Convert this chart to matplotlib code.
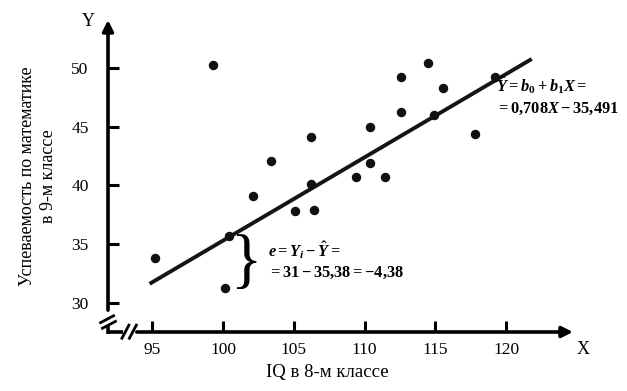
import numpy as np
import matplotlib.pyplot as plt

# IQ in 8th grade vs maths score in 9th grade
iq = [95.2, 99.3, 100.1, 100.4, 102.1, 103.4, 105.1, 106.2, 106.2, 106.4, 109.4,
      110.4, 110.4, 111.4, 112.6, 112.6, 114.5, 114.9, 115.5, 117.8, 119.2]
score = [33.8, 50.2, 31.3, 35.7, 39.1, 42.1, 37.8, 44.1, 40.1, 37.9, 40.7,
         45.0, 41.9, 40.7, 49.2, 46.2, 50.4, 46.0, 48.3, 44.4, 49.2]

b0, b1 = -35.491, 0.708
line_x = [94.8, 121.8]

xticks = [95, 100, 105, 110, 115, 120]
yticks = [30, 35, 40, 45, 50]

plt.rcParams['font.family'] = 'Liberation Serif'
plt.rcParams['mathtext.fontset'] = 'custom'
plt.rcParams['mathtext.rm'] = 'Liberation Serif:bold'
plt.rcParams['mathtext.it'] = 'Liberation Serif:italic:bold'
plt.rcParams['mathtext.bf'] = 'Liberation Serif:bold'

W, H = 627, 391
fig = plt.figure(figsize=(W / 100, H / 100), dpi=100)
ax = fig.add_axes([108 / W, 1 - 332 / H, 465 / W, 312 / H])
ax.set_xlim(91.86, 124.72)
ax.set_ylim(27.53, 54.06)

# === data ===
ax.plot(iq, score, 'o', color='#111111', markersize=5.8, zorder=3)
lx = np.array(line_x)
ax.plot(lx, b0 + b1 * lx, color='#151515', lw=2.8, solid_capstyle='butt', zorder=2)

# === axes drawn by hand (arrows + breaks) ===
for s in ax.spines.values():
    s.set_visible(False)
ax.set_xticks(xticks)
ax.set_yticks(yticks)
ax.tick_params(direction='in', length=8, width=2.2, labelsize=12.5, color='k')
ax.tick_params(axis='x', pad=7)
ax.tick_params(axis='y', pad=14)

tr = ax.transAxes
kw = dict(transform=tr, clip_on=False, color='k', lw=2.6, solid_capstyle='butt')
# y axis
ax.plot([0, 0], [-0.005, 0.022], **kw)
ax.annotate('', xy=(0, 1.0), xytext=(0, 0.07), xycoords=tr,
            arrowprops=dict(arrowstyle='-|>', lw=2.6, color='k', mutation_scale=16,
                            shrinkA=0, shrinkB=0))
ax.plot([-0.016, 0.012], [0.03, 0.052], transform=tr, clip_on=False, color='k', lw=2)
ax.plot([-0.012, 0.016], [0.012, 0.034], transform=tr, clip_on=False, color='k', lw=2)
# x axis
ax.plot([-0.003, 0.032], [0, 0], **kw)
ax.annotate('', xy=(1.0, 0), xytext=(0.062, 0), xycoords=tr,
            arrowprops=dict(arrowstyle='-|>', lw=2.6, color='k', mutation_scale=16,
                            shrinkA=0, shrinkB=0))
ax.plot([0.03, 0.045], [-0.02, 0.022], transform=tr, clip_on=False, color='k', lw=2)
ax.plot([0.046, 0.061], [-0.02, 0.022], transform=tr, clip_on=False, color='k', lw=2)

fig.text(88 / W, 1 - 22 / H, 'Y', ha='center', va='center', fontsize=13)
fig.text(583 / W, 1 - 349 / H, 'X', ha='center', va='center', fontsize=13)

fig.text(327 / W, 1 - 373 / H, 'IQ в 8-м классе', ha='center', va='center', fontsize=13.5)
fig.text(38 / W, 1 - 176 / H, 'Успеваемость по математике\nв 9-м классе',
         ha='center', va='center', rotation=90, fontsize=13, linespacing=1.3,
         multialignment='center')

# === annotations ===
ax.text(119.25, 48.5, r'$\hat{Y}=b_0+b_1X=$', fontsize=11.8, va='center', ha='left')
ax.text(119.25, 46.5, r'$=0{,}708X-35{,}491$', fontsize=11.8, va='center', ha='left')
ax.text(103.17, 34.5, r'$e=Y_i-\hat{Y}=$', fontsize=11.8, va='center', ha='left')
ax.text(103.17, 32.55, r'$=31-35{,}38=-4{,}38$', fontsize=11.8, va='center', ha='left')
ax.text(101.6, 33.3, '}', fontsize=47, va='center', ha='center')

fig.savefig('out.png', dpi=100)
